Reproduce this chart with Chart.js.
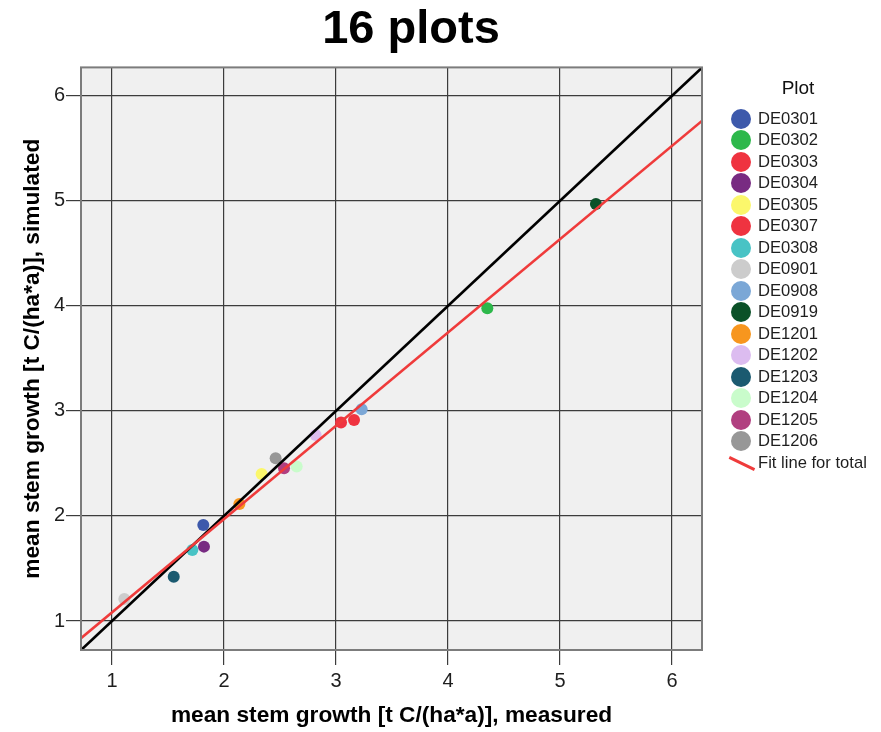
<!DOCTYPE html>
<html>
<head>
<meta charset="utf-8">
<title>16 plots</title>
<script src="https://cdn.jsdelivr.net/npm/chart.js@4.4.1/dist/chart.umd.min.js"></script>
<style>
  html, body { margin: 0; padding: 0; background: #ffffff; }
  #wrap { position: relative; width: 881px; height: 732px; overflow: hidden; }
  #wrap canvas { position: absolute; left: 0; top: 0; }
  #legend {
    position: absolute; left: 0; top: 0; width: 881px; height: 732px;
    pointer-events: none; font-family: "Liberation Sans", Arial, sans-serif; color: #1e1e1e;
  }
  .lg-title { position: absolute; left: 758px; width: 80px; top: 76px; line-height: 24px;
    text-align: center; font-size: 19px; color: #111; }
  .lg-row { position: absolute; left: 728px; height: 22px; line-height: 22px; font-size: 16.6px; white-space: nowrap; }
  .lg-dot { position: absolute; left: 3px; top: 1px; width: 20px; height: 20px; border-radius: 50%; }
  .lg-text { position: absolute; left: 30px; top: 0; }
  .lg-line { position: absolute; left: 0px; top: 10px; width: 28px; height: 2.6px; transform: rotate(25.6deg); transform-origin: 50% 50%; }
</style>
</head>
<body>
<div id="wrap">
  <canvas id="chart" width="881" height="732"></canvas>
  <div id="legend"></div>
</div>
<script>
// Plot identifiers and their mean stem growth, measured vs simulated [t C/(ha*a)]
const plots = ['DE0301', 'DE0302', 'DE0303', 'DE0304', 'DE0305', 'DE0307', 'DE0308', 'DE0901',
               'DE0908', 'DE0919', 'DE1201', 'DE1202', 'DE1203', 'DE1204', 'DE1205', 'DE1206'];
const measured  = [1.815, 4.351, 3.045, 1.821, 2.336, 3.161, 1.717, 1.110,
                   3.229, 5.321, 2.137, 2.818, 1.551, 2.649, 2.536, 2.461];
const simulated = [1.914, 3.978, 2.889, 1.708, 2.400, 2.914, 1.676, 1.210,
                   3.016, 4.969, 2.114, 2.771, 1.422, 2.470, 2.454, 2.550];
const plotColors = ['#3d59ab', '#2db84b', '#ef3340', '#782b82', '#fbf76b', '#ef3340', '#48c3c5', '#cccccc',
                    '#7ba7d6', '#0b5128', '#f7961e', '#dcbcf0', '#1b5a70', '#c9fccb', '#b13f80', '#979797'];
const tickValues = [1, 2, 3, 4, 5, 6];
const xRange = [0.723, 6.268];
const yRange = [0.724, 6.27];

const FONT = "'Liberation Sans', Arial, sans-serif";
Chart.defaults.font.family = FONT;

// Least-squares fit line over all plots ("Fit line for total")
const n = measured.length;
const mx = measured.reduce((a, b) => a + b, 0) / n;
const my = simulated.reduce((a, b) => a + b, 0) / n;
let sxx = 0, sxy = 0;
for (let i = 0; i < n; i++) {
  sxx += (measured[i] - mx) * (measured[i] - mx);
  sxy += (measured[i] - mx) * (simulated[i] - my);
}
const fitSlope = sxy / sxx;
const fitIntercept = my - fitSlope * mx;

// Both reference lines span the full axis range and are clipped to the plot area
const lo = Math.min(xRange[0], yRange[0]);
const hi = Math.max(xRange[1], yRange[1]);

const pointSets = plots.map((p, i) => ({
  type: 'scatter',
  label: p,
  data: [{ x: measured[i], y: simulated[i] }],
  backgroundColor: plotColors[i],
  borderWidth: 0,
  pointRadius: 6,
  pointHoverRadius: 6,
  order: 2,
  xAxisID: 'x', yAxisID: 'y'
}));

const datasets = [
  {
    type: 'line', label: 'identity',
    data: [{ x: lo, y: lo }, { x: hi, y: hi }],
    borderColor: '#000000', borderWidth: 2.6, pointRadius: 0, fill: false,
    clip: 0, order: 1, xAxisID: 'x', yAxisID: 'y'
  },
  {
    type: 'line', label: 'Fit line for total',
    data: [{ x: lo, y: fitIntercept + fitSlope * lo }, { x: hi, y: fitIntercept + fitSlope * hi }],
    borderColor: '#ef3b3b', borderWidth: 2.6, pointRadius: 0, fill: false,
    clip: 0, order: 0, xAxisID: 'x', yAxisID: 'y'
  },
  ...pointSets
];

// Plot background and frame
const framePlugin = {
  id: 'frame',
  beforeDraw(chart) {
    const { ctx, chartArea: a } = chart;
    ctx.save();
    ctx.fillStyle = '#f0f0f0';
    ctx.fillRect(a.left, a.top, a.right - a.left, a.bottom - a.top);
    ctx.restore();
  },
  afterDraw(chart) {
    const { ctx, chartArea: a } = chart;
    ctx.save();
    ctx.strokeStyle = '#7c7c7c';
    ctx.lineWidth = 2;
    ctx.strokeRect(a.left, a.top, a.right - a.left, a.bottom - a.top);
    ctx.restore();
  }
};

const gridStyle = { color: '#3c3c3c', lineWidth: 1.2, tickLength: 15, tickColor: '#3c3c3c', tickWidth: 1.2 };
const setTicks = s => { s.ticks = tickValues.map(v => ({ value: v })); };

new Chart(document.getElementById('chart'), {
  type: 'scatter',
  data: { datasets },
  plugins: [framePlugin],
  options: {
    responsive: false,
    animation: false,
    events: [],
    layout: { padding: { left: 0, right: 59, top: 0, bottom: 0 } },
    plugins: {
      legend: { display: false },
      tooltip: { enabled: false },
      title: {
        display: true, text: '16 plots', color: '#000000',
        font: { family: FONT, size: 47, weight: 'bold', lineHeight: 1.2 },
        padding: { top: 2, bottom: 9 }
      }
    },
    scales: {
      x: {
        type: 'linear', position: 'bottom', min: xRange[0], max: xRange[1],
        afterBuildTicks: setTicks,
        afterFit: s => { s.height = 82; },
        grid: gridStyle,
        border: { display: false },
        ticks: { font: { size: 20 }, color: '#1e1e1e', padding: 4, maxRotation: 0 },
        title: {
          display: true, text: 'mean stem growth [t C/(ha*a)], measured', color: '#000000',
          font: { size: 22.7, weight: 'bold', lineHeight: 1.2 }, padding: { top: 0, bottom: 3 }
        }
      },
      y: {
        type: 'linear', position: 'left', min: yRange[0], max: yRange[1],
        afterBuildTicks: setTicks,
        afterFit: s => { s.width = 81; },
        grid: gridStyle,
        border: { display: false },
        ticks: { font: { size: 20 }, color: '#1e1e1e', padding: 1 },
        title: {
          display: true, text: 'mean stem growth [t C/(ha*a)], simulated', color: '#000000',
          font: { size: 22.7, weight: 'bold', lineHeight: 1.2 }, padding: { top: 19, bottom: 0 }
        }
      },
      // empty right-hand band that keeps room for the legend
      side: {
        type: 'linear', position: 'right', display: true,
        afterFit: s => { s.width = 120; },
        grid: { display: false, drawTicks: false },
        border: { display: false },
        ticks: { display: false }
      }
    }
  }
});

// Legend: "Plot" heading, one dot per plot, then the fit line entry
const legend = document.getElementById('legend');
const head = document.createElement('div');
head.className = 'lg-title';
head.textContent = 'Plot';
legend.appendChild(head);
const rowTop = 107.5, rowStep = 21.5;
plots.forEach((p, i) => {
  const row = document.createElement('div');
  row.className = 'lg-row';
  row.style.top = (rowTop + i * rowStep) + 'px';
  const dot = document.createElement('div');
  dot.className = 'lg-dot';
  dot.style.background = plotColors[i];
  const txt = document.createElement('div');
  txt.className = 'lg-text';
  txt.textContent = p;
  row.appendChild(dot);
  row.appendChild(txt);
  legend.appendChild(row);
});
const fitRow = document.createElement('div');
fitRow.className = 'lg-row';
fitRow.style.top = (rowTop + plots.length * rowStep) + 'px';
const fitMark = document.createElement('div');
fitMark.className = 'lg-line';
fitMark.style.background = '#ef3b3b';
const fitTxt = document.createElement('div');
fitTxt.className = 'lg-text';
fitTxt.textContent = 'Fit line for total';
fitRow.appendChild(fitMark);
fitRow.appendChild(fitTxt);
legend.appendChild(fitRow);
</script>
</body>
</html>
